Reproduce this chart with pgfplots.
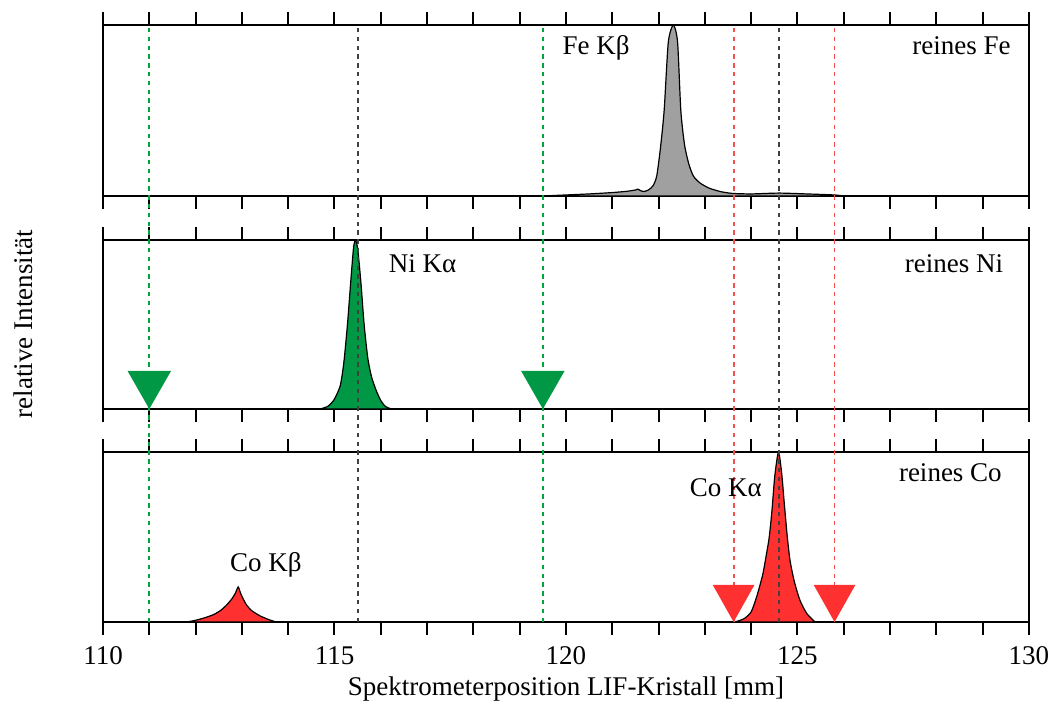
\documentclass[border=0pt]{standalone}
\usepackage{fontspec}
\setmainfont{Liberation Serif}
\usepackage{pgfplots}
\pgfplotsset{compat=1.18}

\definecolor{fegray}{RGB}{160,160,160}
\definecolor{nigreen}{RGB}{0,152,68}
\definecolor{cored}{RGB}{255,48,48}
\definecolor{redline}{RGB}{245,80,80}
\definecolor{greenline}{RGB}{0,165,60}

\tikzset{tag/.style={anchor=east, inner sep=0pt}}

\pgfplotsset{
  panel/.style={
    scale only axis,
    width=463pt,
    xmin=110, xmax=130,
    ymin=0, ymax=1,
    axis line style={line width=1.2pt},
    xtick={110,115,...,130},
    minor xtick={111,...,129},
    tick align=outside,
    xtick pos=both,
    major tick length=6.5pt,
    minor tick length=6.5pt,
    every tick/.style={black, line width=1pt},
    ytick=\empty,
    tick label style={font=\fontsize{13.5}{16}\selectfont},
    /pgf/number format/assume math mode=true,
    clip=false,
  },
  peak/.style={draw=black, line width=0.6pt, smooth, tension=0.4},
  vline/.style={line width=0.9pt, dash pattern=on 2.2pt off 2.2pt},
}

\begin{document}
\fontsize{13.5}{16}\selectfont
\begin{tikzpicture}
\path[use as bounding box] (-51.5pt,-44.5pt) rectangle (477pt,311pt);

% reines Fe
\begin{axis}[panel, at={(0pt,213pt)}, anchor=south west, height=85.5pt,
  xticklabels={}]
\addplot[peak, fill=fegray] coordinates {
  (119.5,0) (120.0,0.006) (120.5,0.012) (121.0,0.02) (121.3,0.027)
  (121.5,0.035) (121.55,0.04) (121.62,0.03) (121.68,0.026) (121.78,0.035)
  (121.88,0.06) (121.96,0.117) (122.04,0.28) (122.12,0.5) (122.21,0.9)
  (122.32,1.0) (122.41,0.9) (122.48,0.5) (122.56,0.3) (122.65,0.19)
  (122.75,0.117) (122.9,0.075) (123.1,0.045) (123.35,0.025) (123.6,0.015)
  (124.0,0.012) (124.6,0.017) (125.2,0.012) (125.8,0.006) (126.0,0)
} -- cycle;
\node at (axis cs:120.65,0.865) {Fe Kβ};
\node[tag] at (axis cs:129.61,0.88) {reines Fe};
\end{axis}

% reines Ni
\begin{axis}[panel, at={(0pt,106.5pt)}, anchor=south west, height=84.5pt,
  xticklabels={}]
\addplot[peak, fill=nigreen] coordinates {
  (114.69,0) (114.85,0.015) (114.98,0.05) (115.12,0.134) (115.2,0.27)
  (115.28,0.5) (115.35,0.75) (115.41,0.95) (115.45,1.0) (115.5,0.95)
  (115.57,0.75) (115.64,0.5) (115.72,0.3) (115.8,0.19) (115.9,0.11)
  (116.0,0.05) (116.1,0.015) (116.23,0)
} -- cycle;
\node at (axis cs:116.9,0.86) {Ni Kα};
\node[tag] at (axis cs:129.45,0.86) {reines Ni};
\end{axis}
\node[rotate=90] at (-40pt,149pt) {relative Intensität};

% reines Co
\begin{axis}[panel, at={(0pt,0pt)}, anchor=south west, height=85pt,
  xticklabel style={yshift=-1pt},
  xlabel={Spektrometerposition LIF-Kristall [mm]},
  xlabel style={font=\fontsize{13.5}{16}\selectfont, yshift=3pt}]
\addplot[peak, fill=cored] coordinates {
  (111.81,0) (112.0,0.01) (112.2,0.025) (112.4,0.045) (112.55,0.07)
  (112.67,0.1) (112.78,0.135) (112.86,0.17) (112.92,0.206) (112.97,0.17)
  (113.03,0.135) (113.1,0.1) (113.22,0.065) (113.4,0.035) (113.6,0.012)
  (113.75,0)
} -- cycle;
\addplot[peak, fill=cored] coordinates {
  (123.65,0) (123.85,0.02) (124.0,0.06) (124.12,0.15) (124.25,0.28)
  (124.33,0.4) (124.39,0.5) (124.45,0.66) (124.51,0.86) (124.59,1.0)
  (124.66,0.87) (124.72,0.68) (124.78,0.5) (124.84,0.36) (124.93,0.24)
  (125.05,0.13) (125.2,0.05) (125.38,0)
} -- cycle;
% dashed guide lines through all three panels
\addplot[vline, greenline] coordinates {(111.0,0) (111.0,3.512)};
\addplot[vline, greenline] coordinates {(119.5,0) (119.5,3.512)};
\addplot[vline, black!75] coordinates {(115.5,0) (115.5,3.512)};
\addplot[vline, black!75] coordinates {(124.6,0) (124.6,3.512)};
\addplot[vline, redline] coordinates {(123.62,0) (123.62,3.512)};
\addplot[vline, redline] coordinates {(125.8,0) (125.8,3.512)};
% triangles in the Ni panel (panel 2 bottom = 1.253 in these units)
\addplot[fill=nigreen, draw=none] coordinates {
  (110.53,1.477) (111.47,1.477) (111.0,1.253)} -- cycle;
\addplot[fill=nigreen, draw=none] coordinates {
  (119.03,1.477) (119.97,1.477) (119.5,1.253)} -- cycle;
% triangles in the Co panel
\addplot[fill=cored, draw=none] coordinates {
  (123.17,0.218) (124.07,0.218) (123.62,0)} -- cycle;
\addplot[fill=cored, draw=none] coordinates {
  (125.35,0.218) (126.25,0.218) (125.8,0)} -- cycle;
\node at (axis cs:113.52,0.335) {Co Kβ};
\node at (axis cs:123.45,0.79) {Co Kα};
\node[tag] at (axis cs:129.42,0.88) {reines Co};
\end{axis}
\end{tikzpicture}
\end{document}
